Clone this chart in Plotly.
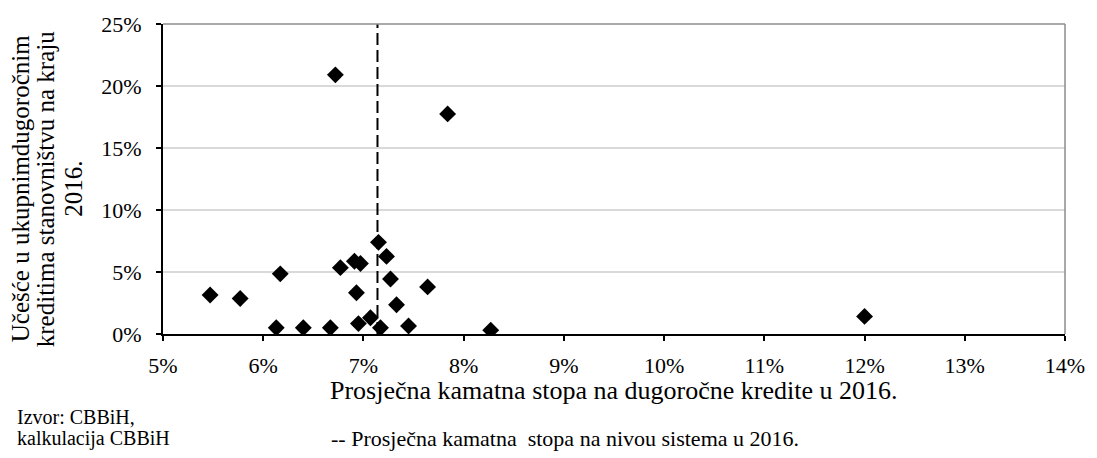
import plotly.graph_objects as go

# Average long-term loan rate per bank (%) and share in total long-term household loans (%)
rate = [5.47, 5.77, 6.13, 6.17, 6.40, 6.67, 6.72, 6.77, 6.91, 6.97, 6.93, 6.95,
        7.07, 7.15, 7.17, 7.23, 7.27, 7.33, 7.45, 7.64, 7.84, 8.27, 12.00]
share = [3.14, 2.86, 0.50, 4.85, 0.50, 0.50, 20.90, 5.35, 5.87, 5.69, 3.33, 0.84,
         1.31, 7.39, 0.50, 6.26, 4.43, 2.36, 0.65, 3.80, 17.75, 0.31, 1.42]
system_rate = 7.14

x_ticks = [5, 6, 7, 8, 9, 10, 11, 12, 13, 14]
y_ticks = [0, 5, 10, 15, 20, 25]

y_title_lines = ["Učešće u ukupnimdugoročnim", "kreditima stanovništvu na kraju", "2016."]
x_title = "Prosječna kamatna stopa na dugoročne kredite u 2016."
source_lines = ["Izvor: CBBiH,", "kalkulacija CBBiH"]
note = "-- Prosječna kamatna  stopa na nivou sistema u 2016."

FONT = "Liberation Serif"

fig = go.Figure()
fig.add_trace(go.Scatter(
    x=[system_rate, system_rate], y=[0, 25], mode="lines",
    line=dict(color="black", width=2, dash="12px,5px"),
    hoverinfo="skip", showlegend=False))
fig.add_trace(go.Scatter(
    x=rate, y=share, mode="markers",
    marker=dict(symbol="diamond", size=13, color="black"),
    showlegend=False))

fig.update_layout(
    width=1097, height=458,
    margin=dict(l=163, r=21, t=16, b=124),
    plot_bgcolor="white", paper_bgcolor="white",
    font=dict(family=FONT, size=22, color="black"),
    xaxis=dict(range=[5, 14], tickvals=x_ticks,
               ticktext=[f"{v}%" for v in x_ticks],
               showgrid=False, zeroline=False,
               showline=True, linecolor="black", linewidth=2,
               ticks="outside", ticklen=5, tickcolor="black", tickwidth=1.5,
               ticklabelstandoff=6,
               tickfont=dict(family=FONT, size=22)),
    yaxis=dict(range=[0, 25], tickvals=y_ticks,
               ticktext=[f"{v}%" for v in y_ticks],
               showgrid=True, gridcolor="#d9d9d9", gridwidth=1.5, zeroline=False,
               showline=True, linecolor="black", linewidth=2,
               ticks="outside", ticklen=5, tickcolor="black", tickwidth=1.5,
               ticklabelstandoff=10,
               tickfont=dict(family=FONT, size=22)),
)

# Gray frame on top and right
fig.add_shape(type="line", xref="paper", yref="paper", x0=0, x1=1, y0=1, y1=1,
              line=dict(color="#8c8c8c", width=1.5))
fig.add_shape(type="line", xref="paper", yref="paper", x0=1, x1=1, y0=0, y1=1,
              line=dict(color="#8c8c8c", width=1.5))

# Vertical axis title, one annotation per line
for line, xp in zip(y_title_lines, [-0.158, -0.1303, -0.0986]):
    fig.add_annotation(
        text=line, xref="paper", yref="paper", x=xp, y=0.4686,
        xanchor="center", yanchor="middle", textangle=-90, showarrow=False,
        font=dict(family=FONT, size=25))

# Horizontal axis title
fig.add_annotation(
    text=x_title, xref="paper", yref="paper", x=0.5, y=-0.182,
    xanchor="center", yanchor="middle", showarrow=False,
    font=dict(family=FONT, size=26))

# Source
for line, yp in zip(source_lines, [-0.2673, -0.3365]):
    fig.add_annotation(
        text=line, xref="paper", yref="paper", x=-0.1643, y=yp,
        xanchor="left", yanchor="middle", showarrow=False,
        font=dict(family=FONT, size=20))

# Note on the dashed line
fig.add_annotation(
    text=note, xref="paper", yref="paper", x=0.184, y=-0.3365,
    xanchor="left", yanchor="middle", showarrow=False,
    font=dict(family=FONT, size=22))

fig.write_html("out.html")
